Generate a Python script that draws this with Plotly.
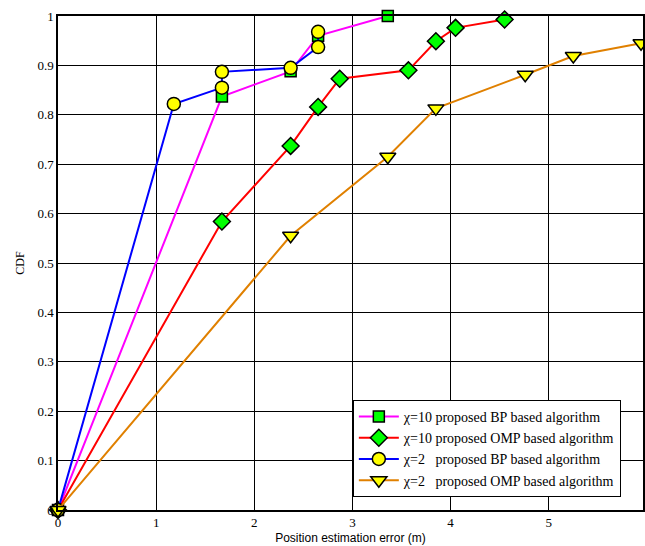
import plotly.graph_objects as go

# Data
bp10_x = [0, 1.67, 2.37, 2.65, 3.36]
bp10_y = [0, 0.837, 0.888, 0.960, 1.0]

omp10_x = [0, 1.67, 2.37, 2.65, 2.87, 3.57, 3.85, 4.05, 4.55]
omp10_y = [0, 0.584, 0.737, 0.816, 0.873, 0.890, 0.949, 0.976, 0.993]

bp2_x = [0, 1.18, 1.67, 1.67, 2.37, 2.65, 2.65]
bp2_y = [0, 0.822, 0.855, 0.887, 0.895, 0.937, 0.968]

omp2_x = [0, 2.37, 3.36, 3.85, 4.76, 5.25, 5.94]
omp2_y = [0, 0.555, 0.715, 0.813, 0.881, 0.919, 0.945]

names = [
    "\u03c7=10 proposed BP based algorithm",
    "\u03c7=10 proposed OMP based algorithm",
    "\u03c7=2\u00a0\u00a0\u00a0proposed BP based algorithm",
    "\u03c7=2\u00a0\u00a0\u00a0proposed OMP based algorithm",
]

x_ticks = [0, 1, 2, 3, 4, 5]
y_ticks = [0, 0.1, 0.2, 0.3, 0.4, 0.5, 0.6, 0.7, 0.8, 0.9, 1]
y_labels = ["0", "0.1", "0.2", "0.3", "0.4", "0.5", "0.6", "0.7", "0.8", "0.9", "1"]

serif = "Liberation Serif, Times New Roman, serif"
sans = "Liberation Sans, Arial, sans-serif"

fig = go.Figure()

def add(x, y, name, color, symbol, size, mcolor):
    fig.add_trace(go.Scatter(
        x=x, y=y, name=name, mode="lines+markers",
        line=dict(color=color, width=2),
        marker=dict(symbol=symbol, size=size, color=mcolor,
                    line=dict(color="black", width=1.5)),
        cliponaxis=False,
    ))

add(bp10_x, bp10_y, names[0], "#FF00FF", "square", 11, "#00FF00")
add(omp10_x, omp10_y, names[1], "#FF0000", "diamond", 13, "#00FF00")
add(bp2_x, bp2_y, names[2], "#0000FF", "circle", 13, "#FFFF00")
add(omp2_x, omp2_y, names[3], "#E08000", "triangle-down", 14, "#FFFF00")

fig.update_layout(
    width=645, height=546,
    margin=dict(l=58, r=0, t=16, b=36),
    paper_bgcolor="white", plot_bgcolor="white",
    showlegend=True,
    legend=dict(
        x=0.504, y=0.2227, xanchor="left", yanchor="top",
        bgcolor="white", bordercolor="black", borderwidth=1,
        font=dict(family=serif, size=14, color="black"),
        tracegroupgap=0, itemwidth=40,
    ),
    font=dict(family=serif, size=13, color="black"),
)

fig.update_xaxes(
    range=[0, 5.96], tickvals=x_ticks, ticktext=[str(v) for v in x_ticks],
    showgrid=True, gridcolor="black", gridwidth=1,
    showline=True, linecolor="black", linewidth=1.5, mirror=True,
    ticks="inside", ticklen=4, tickcolor="black",
    zeroline=False,
    tickfont=dict(family=serif, size=13),
    title=dict(text="Position estimation error (m)", font=dict(family=sans, size=12), standoff=4),
)
fig.update_yaxes(
    range=[0, 1], tickvals=y_ticks, ticktext=y_labels,
    showgrid=True, gridcolor="black", gridwidth=1,
    showline=True, linecolor="black", linewidth=1.5, mirror=True,
    ticks="inside", ticklen=4, tickcolor="black",
    zeroline=False,
    tickfont=dict(family=serif, size=13),
    title=dict(text="CDF", font=dict(family=serif, size=12), standoff=10),
)

fig.write_html("out.html")
